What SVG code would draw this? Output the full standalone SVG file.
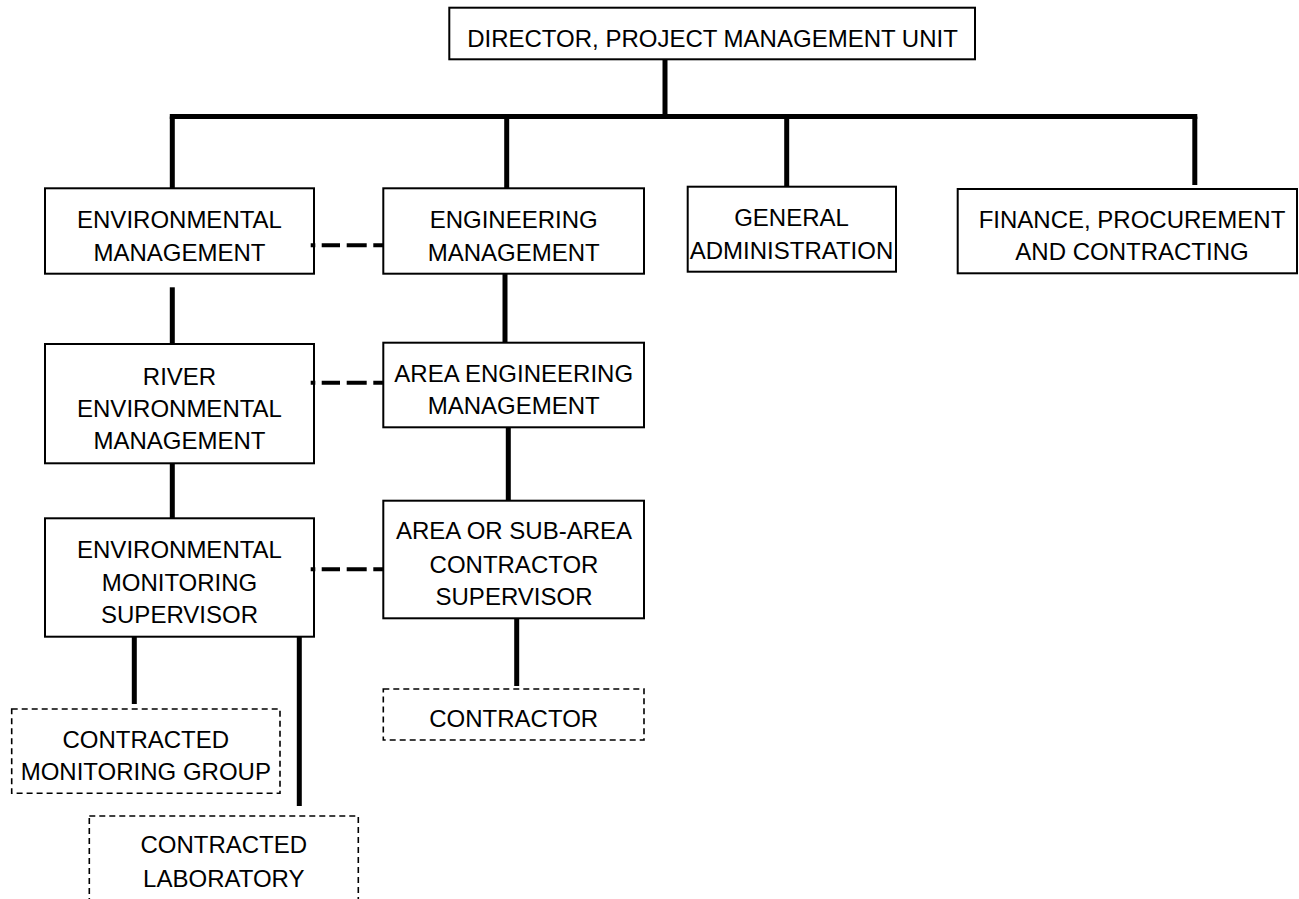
<svg xmlns="http://www.w3.org/2000/svg" width="1299" height="899" viewBox="0 0 1299 899">
<style>
.box{fill:#fff;stroke:#000;stroke-width:2}
.dbox{fill:#fff;stroke:#000;stroke-width:1.6;stroke-dasharray:6 4}
.t{font-family:"Liberation Sans",Arial,sans-serif;font-size:24px;fill:#000;text-anchor:middle}
.c{stroke:#000;stroke-width:5;fill:none}
.d{stroke:#000;stroke-width:4;fill:none;stroke-dasharray:4.6 6.4 18.3 6.7 20 6.6 10.5 100}
</style>
<rect width="1299" height="899" fill="#fff"/>
<g id="director">
<rect class="box" x="449.3" y="7.7" width="525.7" height="51.6"/>
<text class="t" x="712.5" y="46.7">DIRECTOR, PROJECT MANAGEMENT UNIT</text>
</g>
<g id="env-mgmt">
<rect class="box" x="45" y="188.3" width="269" height="85.4"/>
<text class="t" x="179.5" y="228.3">ENVIRONMENTAL</text>
<text class="t" x="179.5" y="261">MANAGEMENT</text>
</g>
<g id="eng-mgmt">
<rect class="box" x="383.3" y="188.3" width="260.7" height="85.4"/>
<text class="t" x="513.7" y="228.3">ENGINEERING</text>
<text class="t" x="513.7" y="260.7">MANAGEMENT</text>
</g>
<g id="gen-admin">
<rect class="box" x="687.7" y="186.7" width="208.3" height="85"/>
<text class="t" x="791.5" y="226">GENERAL</text>
<text class="t" x="791.5" y="259.3">ADMINISTRATION</text>
</g>
<g id="finance">
<rect class="box" x="957.7" y="189" width="339.3" height="84.3"/>
<text class="t" x="1132" y="228.3">FINANCE, PROCUREMENT</text>
<text class="t" x="1132" y="260">AND CONTRACTING</text>
</g>
<g id="river-env">
<rect class="box" x="45" y="344" width="269" height="119.3"/>
<text class="t" x="179.5" y="385">RIVER</text>
<text class="t" x="179.5" y="416.7">ENVIRONMENTAL</text>
<text class="t" x="179.5" y="449.3">MANAGEMENT</text>
</g>
<g id="area-eng">
<rect class="box" x="383.3" y="342.7" width="260.7" height="84.6"/>
<text class="t" x="513.7" y="381.7">AREA ENGINEERING</text>
<text class="t" x="513.7" y="414.3">MANAGEMENT</text>
</g>
<g id="env-monitoring">
<rect class="box" x="45" y="518.3" width="269" height="118.4"/>
<text class="t" x="179.5" y="558.3">ENVIRONMENTAL</text>
<text class="t" x="179.5" y="590.7">MONITORING</text>
<text class="t" x="179.5" y="623.3">SUPERVISOR</text>
</g>
<g id="area-contractor-supervisor">
<rect class="box" x="383.3" y="500.7" width="260.7" height="117.6"/>
<text class="t" x="514" y="539.3">AREA OR SUB-AREA</text>
<text class="t" x="514" y="573.3">CONTRACTOR</text>
<text class="t" x="514" y="605">SUPERVISOR</text>
</g>
<g id="contractor">
<rect class="dbox" x="383.3" y="689" width="260.7" height="51"/>
<text class="t" x="513.7" y="727.3">CONTRACTOR</text>
</g>
<g id="contracted-monitoring">
<rect class="dbox" x="11.7" y="709" width="268.3" height="84.3"/>
<text class="t" x="145.8" y="748.3">CONTRACTED</text>
<text class="t" x="145.8" y="780">MONITORING GROUP</text>
</g>
<g id="contracted-lab">
<rect class="dbox" x="89.3" y="816" width="269" height="100"/>
<text class="t" x="223.8" y="853.3">CONTRACTED</text>
<text class="t" x="223.8" y="887.3">LABORATORY</text>
</g>
<g id="connectors">
<line class="c" x1="665" y1="59" x2="665" y2="116.5"/>
<line class="c" x1="169.8" y1="116.5" x2="1197.3" y2="116.5"/>
<line class="c" x1="172.3" y1="116.5" x2="172.3" y2="188"/>
<line class="c" x1="506.7" y1="116.5" x2="506.7" y2="188"/>
<line class="c" x1="786.7" y1="116.5" x2="786.7" y2="186.7"/>
<line class="c" x1="1194.8" y1="116.5" x2="1194.8" y2="185"/>
<line class="c" x1="172.3" y1="287.3" x2="172.3" y2="344"/>
<line class="c" x1="505" y1="273" x2="505" y2="342.7"/>
<line class="c" x1="172.3" y1="463" x2="172.3" y2="518"/>
<line class="c" x1="508.3" y1="427" x2="508.3" y2="500.7"/>
<line class="c" x1="134.3" y1="636.7" x2="134.3" y2="704"/>
<line class="c" x1="299.3" y1="636.7" x2="299.3" y2="806"/>
<line class="c" x1="516.7" y1="618" x2="516.7" y2="686"/>
<line class="d" x1="310.7" y1="245.3" x2="383.3" y2="245.3"/>
<line class="d" x1="310.7" y1="382.7" x2="383.3" y2="382.7"/>
<line class="d" x1="310.7" y1="569.3" x2="383.3" y2="569.3"/>
</g>
</svg>
